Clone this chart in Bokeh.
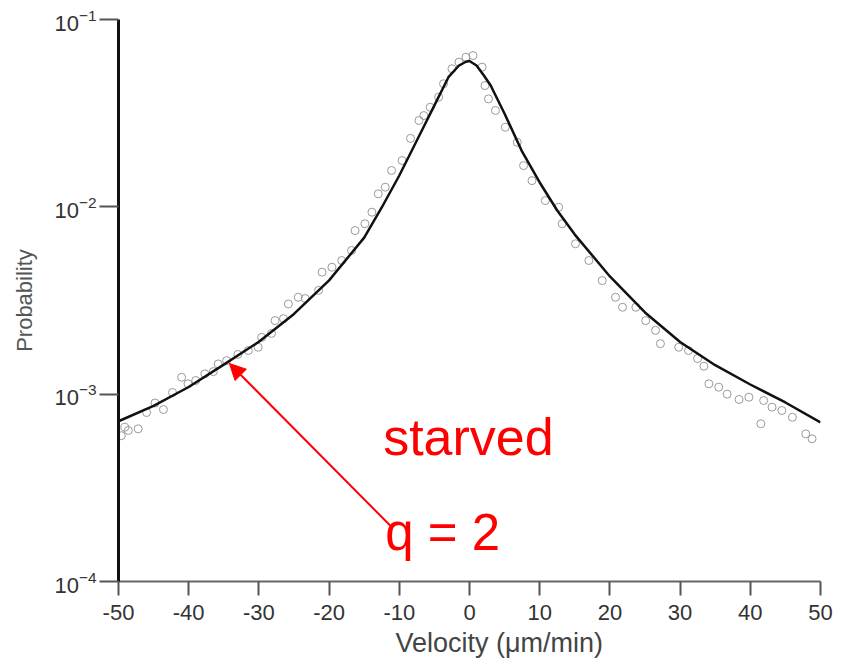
from bokeh.plotting import figure
from bokeh.models import FixedTicker, Label, Arrow, NormalHead, ColumnDataSource, Title
from bokeh.embed import file_html
from bokeh.resources import INLINE

# Measured velocity distribution (starved cells)
x_obs = [-49.6, -49.1, -48.6, -47.2, -46.0, -44.8, -43.6, -42.3, -41.0, -40.1,
         -39.0, -37.7, -36.5, -35.8, -34.6, -33.0, -31.5, -30.1, -29.6, -28.2,
         -27.7, -26.5, -25.8, -24.4, -23.4, -21.5, -21.0, -19.6, -18.2, -16.8,
         -16.3, -14.9, -13.9, -13.0, -12.0, -11.1, -9.6, -8.4, -7.2, -6.5,
         -5.6, -4.4, -3.7, -2.5, -1.5, -0.5, 0.5, 1.8, 2.2, 2.7,
         3.7, 5.1, 6.8, 7.7, 8.9, 10.8, 12.7, 13.2, 15.1, 17.0,
         18.9, 20.8, 21.8, 23.7, 25.1, 26.5, 27.2, 29.8, 31.2, 32.5,
         33.4, 34.1, 35.5, 36.7, 38.4, 39.8, 41.5, 41.9, 43.1, 44.5,
         46.0, 47.9, 48.8]
p_obs = [6.0e-4, 6.66e-4, 6.4e-4, 6.53e-4, 7.98e-4, 8.97e-4, 8.28e-4, 1.021e-3, 1.23e-3, 1.136e-3,
         1.183e-3, 1.284e-3, 1.32e-3, 1.45e-3, 1.51e-3, 1.63e-3, 1.71e-3, 1.78e-3, 2.01e-3, 2.11e-3,
         2.47e-3, 2.53e-3, 3.03e-3, 3.29e-3, 3.24e-3, 3.58e-3, 4.48e-3, 4.76e-3, 5.17e-3, 5.85e-3,
         7.47e-3, 8.12e-3, 9.36e-3, 1.174e-2, 1.273e-2, 1.563e-2, 1.767e-2, 2.32e-2, 2.89e-2, 3.07e-2,
         3.40e-2, 3.85e-2, 4.54e-2, 5.46e-2, 5.92e-2, 6.29e-2, 6.42e-2, 5.57e-2, 4.44e-2, 3.77e-2,
         3.27e-2, 2.66e-2, 2.21e-2, 1.66e-2, 1.38e-2, 1.08e-2, 9.95e-3, 8.12e-3, 6.35e-3, 5.17e-3,
         4.04e-3, 3.29e-3, 2.91e-3, 2.91e-3, 2.47e-3, 2.19e-3, 1.86e-3, 1.78e-3, 1.71e-3, 1.55e-3,
         1.41e-3, 1.136e-3, 1.09e-3, 1.00e-3, 9.37e-4, 9.63e-4, 6.95e-4, 9.25e-4, 8.52e-4, 8.18e-4,
         7.53e-4, 6.14e-4, 5.78e-4]

# Fitted distribution (q = 2)
x_fit = [-50, -45, -40, -35, -30, -25, -20, -15, -12.5, -10, -7.5, -5, -3, -1.5, -0.5, 0,
         1, 2, 3, 5, 7.5, 10, 12.5, 15, 20, 25, 30, 35, 40, 45, 50]
p_fit = [7.17e-4, 8.66e-4, 1.092e-3, 1.438e-3, 1.905e-3, 2.682e-3, 4.05e-3, 6.85e-3,
         9.92e-3, 1.47e-2, 2.26e-2, 3.48e-2, 4.92e-2, 5.68e-2, 5.95e-2, 6.0e-2,
         5.68e-2, 5.05e-2, 4.46e-2, 3.14e-2, 1.97e-2, 1.349e-2, 9.56e-3, 7.11e-3,
         4.25e-3, 2.73e-3, 1.90e-3, 1.428e-3, 1.126e-3, 9.03e-4, 7.06e-4]

x_ticks = [-50, -40, -30, -20, -10, 0, 10, 20, 30, 40, 50]
y_ticks = [1e-4, 1e-3, 1e-2, 1e-1]

FONT = "Liberation Sans"
TEXT_COLOR = "#333333"

p = figure(width=844, height=669, x_range=(-50, 50), y_range=(1e-4, 1e-1),
           y_axis_type="log", output_backend="svg", toolbar_location=None,
           min_border_left=118, min_border_right=24, min_border_top=19,
           min_border_bottom=88)
p.outline_line_color = None
p.grid.grid_line_color = None
p.background_fill_color = "white"
p.border_fill_color = "white"

obs = ColumnDataSource(dict(x=x_obs, y=p_obs))
fit = ColumnDataSource(dict(x=x_fit, y=p_fit))

p.scatter("x", "y", source=obs, marker="circle", size=8, fill_color=None,
          line_color="#9a9a9a", line_width=1)
p.line("x", "y", source=fit, line_color="#111111", line_width=2.5)

# x axis
xa = p.xaxis[0]
xa.ticker = FixedTicker(ticks=x_ticks)
xa.major_label_overrides = {t: str(t) for t in x_ticks}
xa.axis_line_color = "#666666"
xa.axis_line_width = 2
xa.major_tick_line_color = "#555555"
xa.major_tick_line_width = 2
xa.major_tick_in = 0
xa.major_tick_out = 14
xa.minor_tick_line_color = None
xa.major_label_standoff = 9
xa.major_label_text_font = FONT
xa.major_label_text_font_size = "22px"
xa.major_label_text_color = TEXT_COLOR

# x axis title, set a little right of centre
p.add_layout(Title(text="Velocity (μm/min)", align="left", offset=277,
                   text_font=FONT, text_font_size="27px", text_font_style="normal",
                   text_color="#444444", standoff=6), "below")

# y axis
ya = p.yaxis[0]
ya.ticker = FixedTicker(ticks=y_ticks)
ya.axis_line_color = "#111111"
ya.axis_line_width = 3
ya.major_tick_line_color = "#555555"
ya.major_tick_line_width = 2
ya.major_tick_in = 0
ya.major_tick_out = 19
ya.minor_tick_line_color = None
ya.major_label_standoff = 3
ya.major_label_text_font = FONT
ya.major_label_text_font_size = "22px"
ya.major_label_text_color = TEXT_COLOR
ya.axis_label = "Probability"
ya.axis_label_text_font = FONT
ya.axis_label_text_font_size = "22px"
ya.axis_label_text_font_style = "normal"
ya.axis_label_text_color = "#555555"
ya.axis_label_standoff = 14

# annotation
p.add_layout(Arrow(end=NormalHead(size=16, fill_color="red", line_color="red"),
                   x_start=-11.3, y_start=1.99e-4, x_end=-34.2, y_end=1.458e-3,
                   line_color="red", line_width=2))
p.add_layout(Label(x=-12.3, y=4.71e-4, y_offset=18, text="starved", text_color="red",
                   text_font=FONT, text_font_size="52px", text_baseline="alphabetic"))
p.add_layout(Label(x=-12.0, y=1.463e-4, y_offset=18, text="q = 2", text_color="red",
                   text_font=FONT, text_font_size="51px", text_baseline="alphabetic"))

open("out.html", "w").write(file_html(p, INLINE))
